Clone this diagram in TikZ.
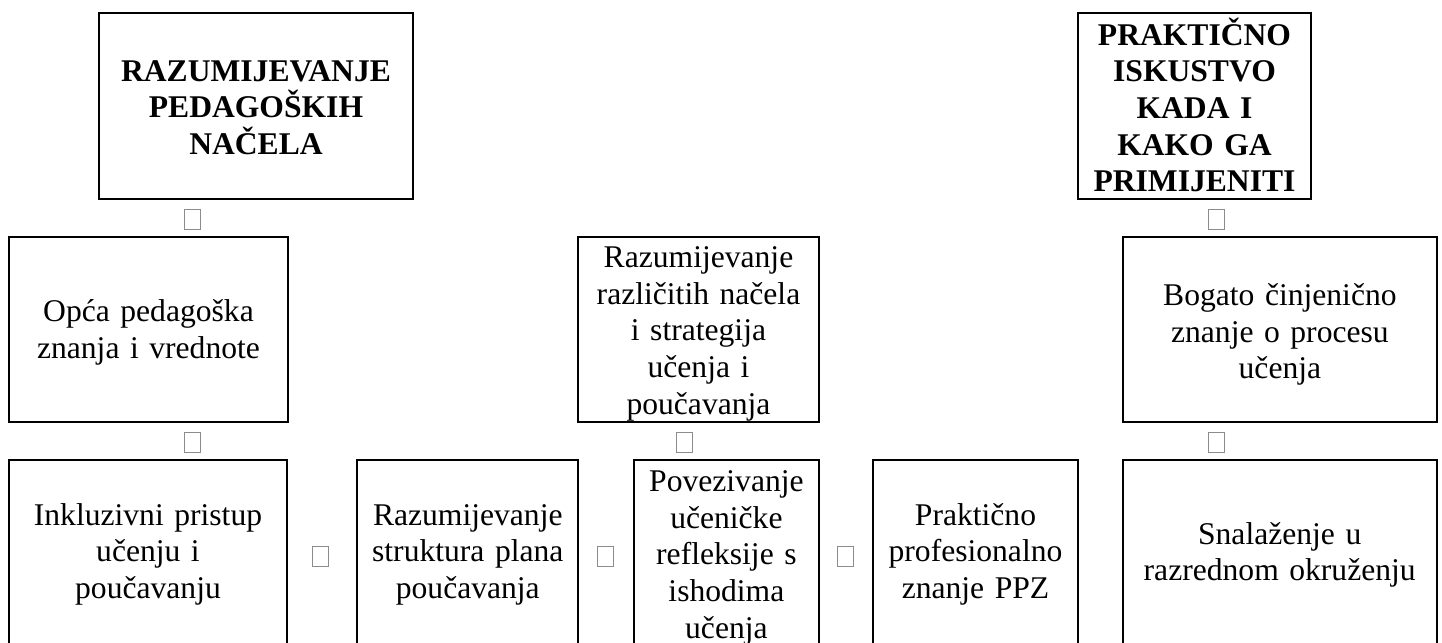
\documentclass[tikz,border=0pt]{standalone}
\usepackage{fontspec}
\setmainfont{Liberation Serif}
\newcommand{\fl}{\rule{0pt}{16pt}}
\tikzset{
  box/.style={draw=black, line width=1.1pt, inner sep=0pt, outer sep=0pt, rectangle},
  txt/.style={inner sep=0pt, outer sep=0pt, anchor=north, align=center,
    font=\fontsize{15.8pt}{18.35pt}\selectfont},
  bold/.style={font=\fontsize{15.8pt}{18.35pt}\selectfont\bfseries},
  glyph/.style={draw=black!45, line width=0.5pt, minimum width=8pt, minimum height=10pt, inner sep=0pt}
}
\begin{document}
\begin{tikzpicture}[x=0.5pt, y=-0.5pt]
\fill[white] (0,0) rectangle (1442,643);
\useasboundingbox (0,0) rectangle (1442,643);
\clip (0,0) rectangle (1442,643);
% row 1
\node[box, minimum width=157pt, minimum height=93pt] (A) at (256,106) {};
\node[txt, bold, text width=150pt] (tA) at (256,49) {\fl RAZUMIJEVANJE\\PEDAGOŠKIH\\NAČELA};
\node[box, minimum width=116.5pt, minimum height=93pt] (B) at (1194.5,106) {};
\node[txt, bold, text width=112pt] (tB) at (1194.5,13) {\fl PRAKTIČNO\\ISKUSTVO\\KADA I\\KAKO GA\\PRIMIJENITI};
% row 2
\node[box, minimum width=139.8pt, minimum height=92.5pt] (C) at (148.5,329.2) {};
\node[txt, text width=135pt] (tC) at (148.5,289.5) {\fl Opća pedagoška\\znanja i vrednote};
\node[box, minimum width=120.8pt, minimum height=92.5pt] (D) at (698.5,329.2) {};
\node[txt, text width=118pt] (tD) at (698.5,235.5) {\fl Razumijevanje\\različitih načela\\i strategija\\učenja i\\poučavanja};
\node[box, minimum width=157.15pt, minimum height=92.5pt] (E) at (1279.9,329.2) {};
\node[txt, text width=150pt] (tE) at (1279.9,273.5) {\fl Bogato činjenično\\znanje o procesu\\učenja};
% row 3
\node[box, minimum width=139.3pt, minimum height=92.5pt] (F) at (148,552.5) {};
\node[txt, text width=135pt] (tF) at (148,493) {\fl Inkluzivni pristup\\učenju i\\poučavanju};
\node[box, minimum width=110.5pt, minimum height=92.5pt] (G) at (467.8,552.5) {};
\node[txt, text width=108pt] (tG) at (467.8,493) {\fl Razumijevanje\\struktura plana\\poučavanja};
\node[box, minimum width=92.65pt, minimum height=92.5pt] (H) at (726.4,552.5) {};
\node[txt, text width=90pt] (tH) at (726.4,459.5) {\fl Povezivanje\\učeničke\\refleksije s\\ishodima\\učenja};
\node[box, minimum width=102.2pt, minimum height=92.5pt] (I) at (975.5,552.5) {};
\node[txt, text width=100pt] (tI) at (975.5,493) {\fl Praktično\\profesionalno\\znanje PPZ};
\node[box, minimum width=157pt, minimum height=92.5pt] (J) at (1279.7,552.5) {};
\node[txt, text width=150pt] (tJ) at (1279.7,512) {\fl Snalaženje u\\razrednom okruženju};
% missing-glyph boxes
\node[glyph] (s1) at (192.5,219) {};
\node[glyph] (s2) at (1216.5,219) {};
\node[glyph] (s3) at (192.3,442.5) {};
\node[glyph] (s4) at (684.7,442.5) {};
\node[glyph] (s5) at (1216.3,442.5) {};
\node[glyph] (s6) at (320.3,556.7) {};
\node[glyph] (s7) at (605.7,556.7) {};
\node[glyph] (s8) at (845.3,556.7) {};
\end{tikzpicture}
\end{document}
